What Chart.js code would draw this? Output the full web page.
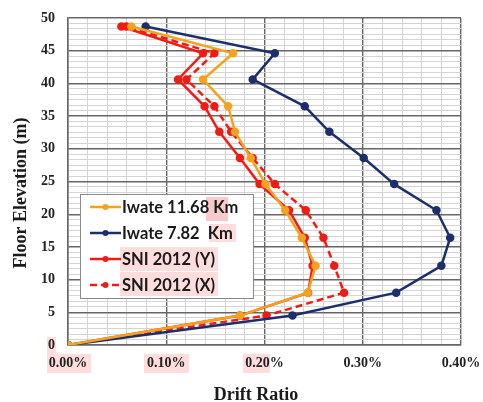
<!DOCTYPE html>
<html lang="en">
<head>
    <meta charset="UTF-8">
    <title>Drift Ratio</title>
    <script src="https://cdn.jsdelivr.net/npm/chart.js"></script>
    <style>
        html, body { margin: 0; padding: 0; background: #fff; }
        #wrap { width: 483px; height: 402px; }
    </style>
</head>
<body>
<div id="wrap"><canvas id="drift-chart" width="483" height="402"></canvas></div>

<script>
    // floor elevations (m) and drift ratios (%) per floor
    const elevation = [0, 4.5, 8, 12.1, 16.4, 20.6, 24.6, 28.6, 32.6, 36.5, 40.6, 44.6, 48.7];
    const iwate1168 = [0, 0.175, 0.244, 0.252, 0.238, 0.221, 0.201, 0.186, 0.170, 0.163, 0.1375, 0.168, 0.0645];
    const iwate782 = [0, 0.2285, 0.334, 0.380, 0.389, 0.375, 0.332, 0.301, 0.266, 0.241, 0.188, 0.2105, 0.079];
    const sniY = [0, 0.175, 0.2444, 0.249, 0.241, 0.225, 0.195, 0.175, 0.154, 0.139, 0.112, 0.1375, 0.0543];
    const sniX = [0, 0.202, 0.281, 0.271, 0.260, 0.242, 0.2105, 0.188, 0.166, 0.149, 0.1206, 0.149, 0.0594];

    const yTicks = [0, 5, 10, 15, 20, 25, 30, 35, 40, 45, 50];
    const xTicks = [0, 0.1, 0.2, 0.3, 0.4];

    const ORANGE = '#f5a21f';
    const NAVY = '#1c2f6b';
    const RED = '#f01c14';

    function pts(xs) {
        return xs.map((x, i) => ({ x: x, y: elevation[i] }));
    }

    function series(label, xs, color, dash) {
        return {
            label: label,
            data: pts(xs),
            showLine: true,
            borderColor: color,
            backgroundColor: color,
            pointBackgroundColor: color,
            pointBorderColor: color,
            pointRadius: 3,
            borderWidth: 2.5,
            borderDash: dash || [],
            tension: 0
        };
    }

    const datasets = [
        series('Iwate 11.68 Km', iwate1168, ORANGE),
        series('Iwate 7.82  Km', iwate782, NAVY),
        series('SNI 2012 (Y)', sniY, RED),
        series('SNI 2012 (X)', sniX, RED, [7, 4])
    ];

    // pinkish text marks behind some labels
    const HL = 'rgba(255, 170, 170, 0.4)';

    const highlights = {
        id: 'highlights',
        beforeDraw(chart) {
            const c = chart.ctx;
            c.save();
            c.fillStyle = HL;
            c.fillRect(47, 354, 44, 19);
            c.fillRect(144, 354, 45, 19);
            c.fillRect(243, 354, 27, 19);
            c.fillRect(47, 337, 9, 17);
            c.restore();
        }
    };

    // boxed legend sitting inside the plot area
    const boxLegend = {
        id: 'boxLegend',
        afterDraw(chart) {
            const c = chart.ctx;
            c.save();
            c.fillStyle = '#fff';
            c.fillRect(80, 194, 173, 104);
            c.strokeStyle = '#8a8a8a';
            c.lineWidth = 1;
            c.strokeRect(80.5, 194.5, 173, 104);

            c.fillStyle = HL;
            c.fillRect(209, 224, 27, 18);
            c.fillRect(120, 247, 98, 24);
            c.fillRect(120, 272, 98, 24);
            c.fillStyle = 'rgba(245, 150, 150, 0.5)';
            c.fillRect(206, 197, 22, 24);

            c.font = 'bold 16.5px Lato';
            c.textBaseline = 'middle';
            const rows = [207, 233, 259, 285];
            chart.data.datasets.forEach((ds, i) => {
                const y = rows[i];
                c.strokeStyle = ds.borderColor;
                c.lineWidth = 2.5;
                c.setLineDash(ds.borderDash);
                c.beginPath();
                c.moveTo(90, y);
                c.lineTo(121, y);
                c.stroke();
                c.setLineDash([]);
                c.fillStyle = ds.borderColor;
                c.beginPath();
                c.arc(105.5, y, 3, 0, Math.PI * 2);
                c.fill();
                c.fillStyle = '#1a1a1a';
                c.fillText(ds.label, 122, y + 1);
            });

            // axis titles
            c.font = 'bold 18px "Liberation Serif"';
            c.fillStyle = '#1a1a1a';
            c.textAlign = 'center';
            c.fillText('Drift Ratio', 256, 395);
            c.translate(21, 193);
            c.rotate(-Math.PI / 2);
            c.fillText('Floor Elevation (m)', 0, 0);
            c.restore();
        }
    };

    const tickFont = { family: 'Liberation Serif', size: 14, weight: 'bold' };

    new Chart(document.getElementById('drift-chart'), {
        type: 'scatter',
        data: { datasets: datasets },
        options: {
            responsive: false,
            animation: false,
            layout: { padding: { top: 18, right: 22, left: 0, bottom: 0 } },
            plugins: {
                legend: { display: false },
                tooltip: { enabled: false }
            },
            scales: {
                x: {
                    type: 'linear',
                    min: xTicks[0],
                    max: xTicks[xTicks.length - 1],
                    afterFit(scale) {
                        scale.height = 57;
                        scale.paddingLeft = 0;
                        scale.paddingRight = 0;
                    },
                    afterBuildTicks(scale) {
                        const t = [];
                        for (let i = 0; i <= (xTicks.length - 1) * 5; i++) t.push({ value: i * 0.02 });
                        scale.ticks = t;
                    },
                    ticks: {
                        autoSkip: false,
                        maxRotation: 0,
                        padding: 10,
                        color: '#222',
                        font: tickFont,
                        callback: (v, i) => i % 5 === 0 ? xTicks[i / 5].toFixed(2) + '%' : ''
                    },
                    grid: {
                        drawTicks: false,
                        color: ctx => ctx.index % 5 === 0 ? '#666' : '#d4d4d4',
                        lineWidth: ctx => ctx.index % 5 === 0 ? 1.4 : 1
                    },
                    border: { color: '#666', width: 1.5 }
                },
                y: {
                    type: 'linear',
                    min: yTicks[0],
                    max: yTicks[yTicks.length - 1],
                    afterFit(scale) {
                        scale.width = 68;
                        scale.paddingTop = 0;
                        scale.paddingBottom = 0;
                    },
                    afterBuildTicks(scale) {
                        const t = [];
                        for (let i = 0; i <= (yTicks.length - 1) * 6; i++) t.push({ value: i * 5 / 6 });
                        scale.ticks = t;
                    },
                    ticks: {
                        autoSkip: false,
                        padding: 13,
                        color: '#222',
                        font: tickFont,
                        callback: (v, i) => i % 6 === 0 ? String(yTicks[i / 6]) : ''
                    },
                    grid: {
                        drawTicks: false,
                        color: ctx => ctx.index % 6 === 0 ? '#666' : '#d4d4d4',
                        lineWidth: ctx => ctx.index % 6 === 0 ? 1.4 : 1
                    },
                    border: { color: '#666', width: 1.5 }
                }
            }
        },
        plugins: [highlights, boxLegend]
    });
</script>
</body>
</html>
